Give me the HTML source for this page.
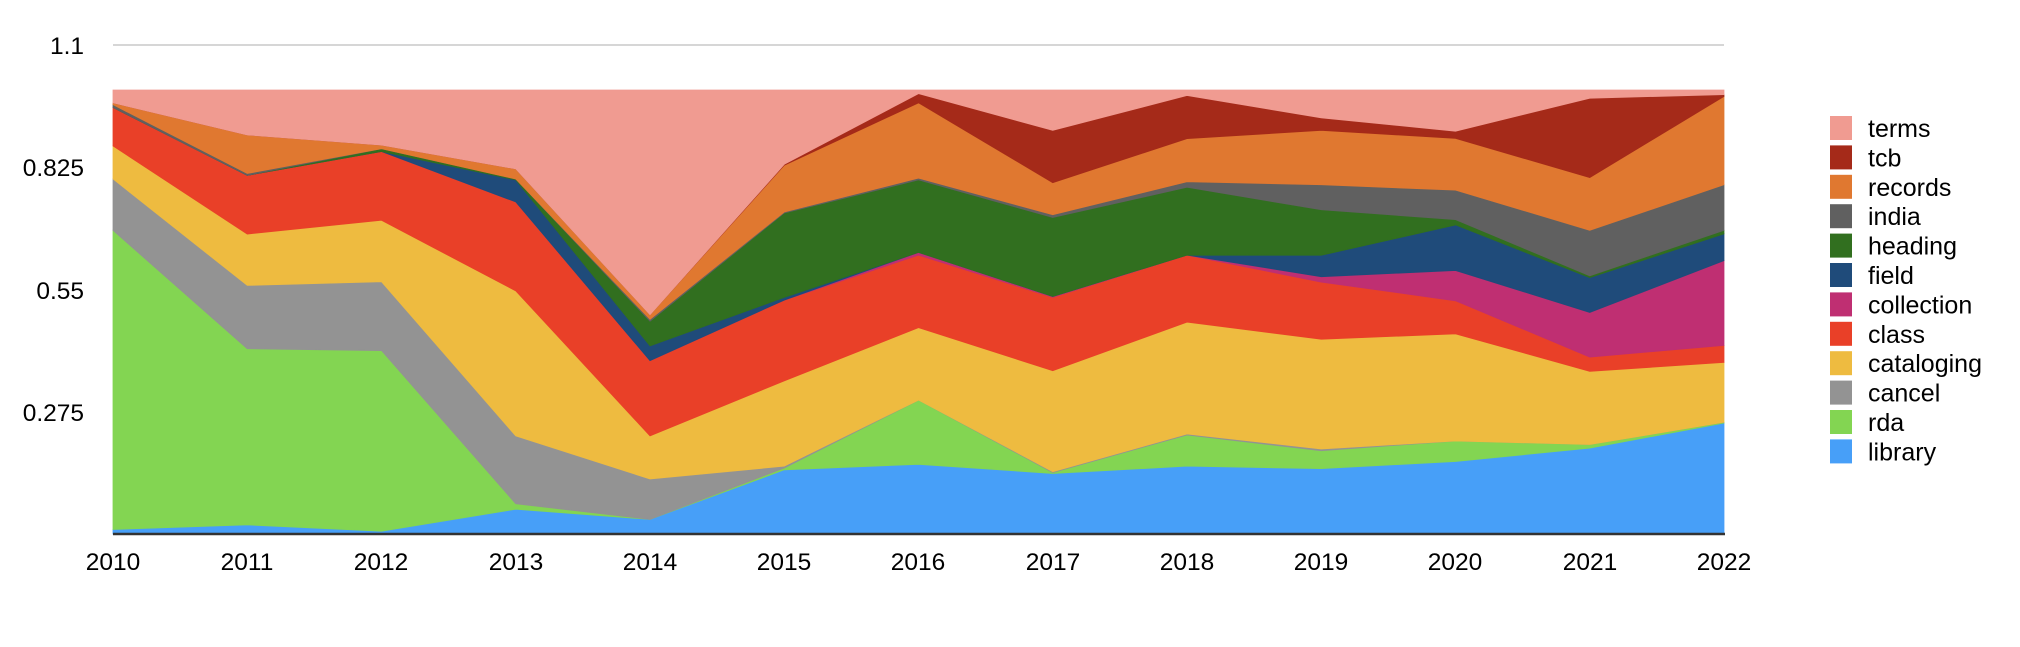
<!DOCTYPE html>
<html><head><meta charset="utf-8"><style>
html,body{margin:0;padding:0;background:#fff;}
body{width:2020px;height:642px;overflow:hidden;}
text{font-family:"Liberation Sans",sans-serif;fill:#000;}
</style></head><body>
<svg id="s" width="2020" height="642" xmlns="http://www.w3.org/2000/svg">
<line x1="113" y1="45" x2="1724" y2="45" stroke="#c8c8c8" stroke-width="1.5"/>
<g id="areas"></g>
<line x1="113" y1="534" x2="1725" y2="534" stroke="#333" stroke-width="2.5"/>
<g font-size="24.5" text-anchor="end">
<text x="84" y="54">1.1</text>
<text x="84" y="176">0.825</text>
<text x="84" y="299">0.55</text>
<text x="84" y="421">0.275</text>
</g>
<g font-size="24.5" text-anchor="middle">
<text x="113" y="570">2010</text><text x="247" y="570">2011</text><text x="381" y="570">2012</text>
<text x="516" y="570">2013</text><text x="650" y="570">2014</text><text x="784" y="570">2015</text>
<text x="918" y="570">2016</text><text x="1053" y="570">2017</text><text x="1187" y="570">2018</text>
<text x="1321" y="570">2019</text><text x="1455" y="570">2020</text><text x="1590" y="570">2021</text>
<text x="1724" y="570">2022</text>
</g>
<g id="legend" font-size="25"></g>
</svg>
<script>
var xs=[];for(var k=0;k<13;k++)xs.push(113+134.25*k);
var L=[
["library","#479FF8",[577,572,579,555,566,512,506,516,508,525,517,502,474]],
["rda","#83D552",[251,380,382,549,566,510,436,515,474,505,494,498,473]],
["cancel","#939393",[195,311,307,475,522,508,436,514,473,503,494,498,473]],
["cataloging","#EEBB40",[159,255,240,317,475,415,357,404,351,380,374,416,406]],
["class","#E94028",[117,191,165,220,393,327,278,324,278,316,337,400,387]],
["collection","#BF2F72",[117,191,165,220,393,327,275,323,278,310,303,350,292]],
["field","#1F4B7A",[117,191,165,196,377,324,275,323,278,286,252,311,262]],
["heading","#316F1F",[117,191,162,195,350,232,196,237,204,235,246,309,258]],
["india","#606060",[114,189,162,195,348,231,194,234,198,207,213,258,207]],
["records","#E07830",[112,147,158,184,343,180,112,199,151,146,155,199,108]],
["tcb","#A52A19",[112,147,158,184,343,179,102,142,104,132,147,110,106]],
["terms","#F09B91",[98,98,98,98,98,98,98,98,98,98,98,98,98]]
];
function T(y,i){ if(y>=577&&i<9&&y>=582)return 534; return i<9 ? 90+(y-98)*0.9174 : y*0.8926; }
L.forEach(function(l){ l[2]=l[2].map(function(v,i){ if(l[0]=="terms")return 90; return Math.min(534,T(v,i));}); });
var ns="http://www.w3.org/2000/svg",g=document.getElementById("areas");
var prev=[];for(var i=0;i<13;i++)prev.push(534);
L.forEach(function(l){
 var p=[];for(var i=0;i<13;i++)p.push(xs[i]+","+l[2][i]);
 for(var i=12;i>=0;i--)p.push(xs[i]+","+prev[i]);
 var e=document.createElementNS(ns,"polygon");
 e.setAttribute("points",p.join(" "));e.setAttribute("fill",l[1]);
 e.setAttribute("stroke",l[1]);e.setAttribute("stroke-width","0.8");
 g.appendChild(e);prev=l[2];
});
var lg=document.getElementById("legend");
for(var j=0;j<12;j++){
 var l=L[11-j],y=116+j*29.4;
 var r=document.createElementNS(ns,"rect");
 r.setAttribute("x",1830);r.setAttribute("y",y);r.setAttribute("width",22);r.setAttribute("height",24);
 r.setAttribute("fill",l[1]);lg.appendChild(r);
 var t=document.createElementNS(ns,"text");
 t.setAttribute("x",1868);t.setAttribute("y",y+21);t.textContent=l[0];lg.appendChild(t);
}
</script>
</body></html>
